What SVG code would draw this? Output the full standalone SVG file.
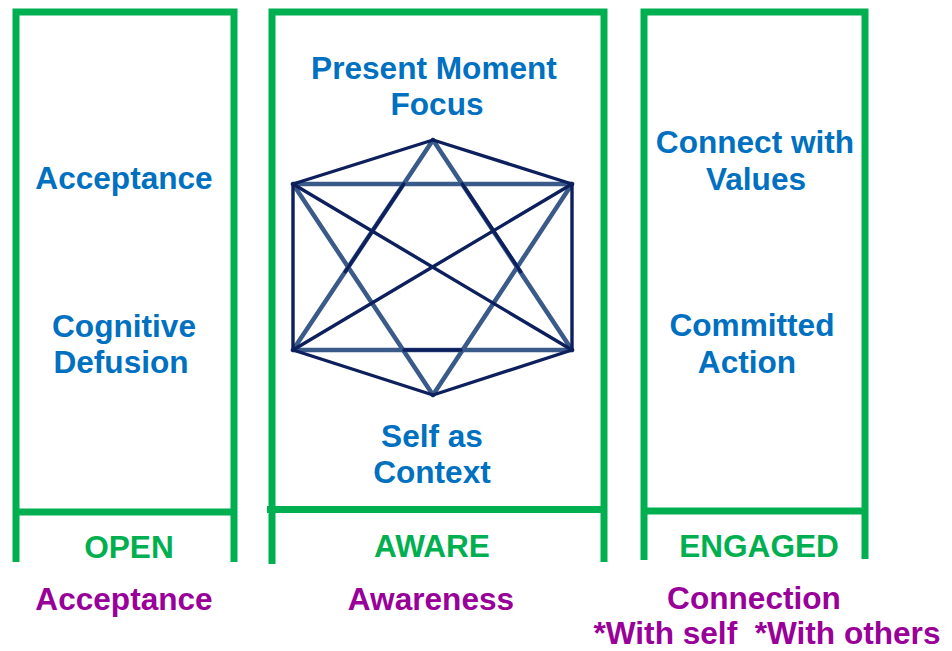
<svg xmlns="http://www.w3.org/2000/svg" width="952" height="651" viewBox="0 0 952 651">
<style>
.frame{fill:none;stroke:#00b050;stroke-width:7;stroke-linecap:butt;stroke-linejoin:miter}
.t{font-family:"Liberation Sans",Arial,sans-serif;font-weight:bold;font-size:31.6px;text-anchor:middle}
.blue{fill:#0070c0}
.green{fill:#00b050}
.purple{fill:#990099}
.lt{stroke:#3a5a8a;stroke-width:4.5;fill:none;stroke-linecap:round}
.dk{stroke:#0d1f5c;stroke-width:3.4;fill:none;stroke-linecap:round}
</style>
<rect width="952" height="651" fill="#ffffff"/>
<g id="open-box">
<path class="frame" d="M16,562 V12 H234 V562"/>
<path class="frame" d="M14,512 H236"/>
<text class="t blue" x="124" y="189">Acceptance</text>
<text class="t blue" x="124" y="337">Cognitive</text>
<text class="t blue" x="121" y="373">Defusion</text>
<text class="t green" x="129" y="558">OPEN</text>
</g>
<g id="aware-box">
<path class="frame" d="M272,564 V12 H604 V562"/>
<path class="frame" d="M267,509.5 H606"/>
<text class="t blue" x="434" y="79">Present Moment</text>
<text class="t blue" x="437" y="115">Focus</text>
<text class="t blue" x="432" y="447">Self as</text>
<text class="t blue" x="432" y="483">Context</text>
<text class="t green" x="432" y="557">AWARE</text>
</g>
<g id="engaged-box">
<path class="frame" d="M644,560 V12 H865 V559"/>
<path class="frame" d="M642,511 H867"/>
<text class="t blue" x="755" y="153">Connect with</text>
<text class="t blue" x="756" y="190">Values</text>
<text class="t blue" x="752" y="336">Committed</text>
<text class="t blue" x="747" y="373">Action</text>
<text class="t green" x="759" y="557">ENGAGED</text>
</g>
<g id="hexagon-star">
<line class="lt" x1="293" y1="184" x2="572" y2="184"/>
<line class="lt" x1="293" y1="350" x2="572" y2="350"/>
<line class="lt" x1="433" y1="140" x2="293" y2="350"/>
<line class="lt" x1="433" y1="140" x2="572" y2="350"/>
<line class="lt" x1="293" y1="184" x2="433" y2="395"/>
<line class="lt" x1="572" y1="184" x2="433" y2="395"/>
<line class="dk" x1="433" y1="140" x2="293" y2="184"/>
<line class="dk" x1="433" y1="140" x2="572" y2="184"/>
<line class="dk" x1="293" y1="184" x2="293" y2="350"/>
<line class="dk" x1="572" y1="184" x2="572" y2="350"/>
<line class="dk" x1="293" y1="350" x2="433" y2="395"/>
<line class="dk" x1="572" y1="350" x2="433" y2="395"/>
<line class="dk" x1="293" y1="184" x2="572" y2="350"/>
<line class="dk" x1="572" y1="184" x2="293" y2="350"/>
<line class="dk" x1="403.7" y1="184" x2="345.3" y2="271.7"/>
<line class="dk" x1="462.3" y1="184" x2="520.7" y2="271.7"/>
<line class="dk" x1="404" y1="350" x2="461" y2="350"/>
</g>
<g id="bottom-labels">
<text class="t purple" x="124" y="610">Acceptance</text>
<text class="t purple" x="431" y="610">Awareness</text>
<text class="t purple" x="754" y="609">Connection</text>
<text class="t purple" x="767" y="644" xml:space="preserve">*With self  *With others</text>
</g>
</svg>
